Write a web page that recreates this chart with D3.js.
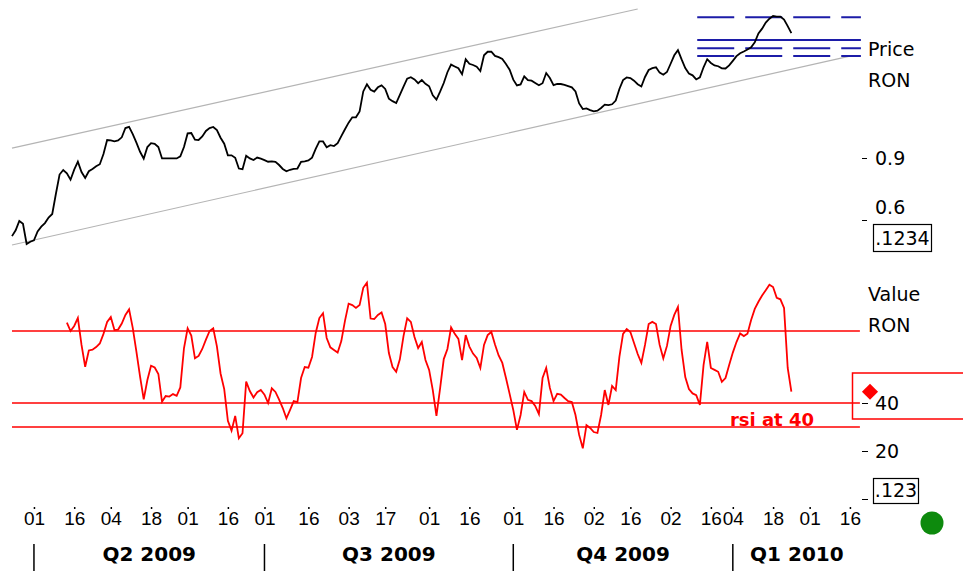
<!DOCTYPE html>
<html><head><meta charset="utf-8">
<script src="https://cdn.jsdelivr.net/npm/d3@7"></script>
<style>html,body{margin:0;padding:0;background:#fff;}svg{display:block;}</style>
</head><body><svg id="c" width="963" height="575"></svg>
<script>
// ---------- DATA ----------
const priceStart = 0;
const priceValues = [
0.522,0.550,0.595,0.582,0.484,0.495,0.502,0.545,0.568,0.585,
0.612,0.629,0.727,0.820,0.842,0.826,0.795,0.844,0.882,0.832,
0.803,0.836,0.847,0.860,0.870,0.919,0.987,0.985,0.981,0.985,
1.000,1.045,1.051,1.016,0.974,0.930,0.897,0.953,0.972,0.969,
0.953,0.898,0.898,0.898,0.898,0.898,0.908,0.953,1.019,1.021,
0.989,0.987,1.004,1.031,1.045,1.050,1.035,0.998,0.969,0.913,
0.913,0.901,0.849,0.846,0.911,0.898,0.890,0.902,0.897,0.890,
0.882,0.884,0.881,0.866,0.847,0.836,0.843,0.847,0.849,0.881,
0.884,0.888,0.902,0.944,0.980,0.980,0.952,0.962,0.958,0.972,
1.006,1.039,1.071,1.097,1.097,1.125,1.222,1.257,1.230,1.221,
1.242,1.251,1.234,1.187,1.175,1.166,1.205,1.245,1.284,1.291,
1.280,1.262,1.277,1.259,1.247,1.203,1.183,1.221,1.263,1.315,
1.352,1.343,1.334,1.305,1.378,1.356,1.350,1.342,1.321,1.397,
1.414,1.414,1.394,1.388,1.379,1.355,1.327,1.279,1.251,1.256,
1.295,1.277,1.274,1.263,1.252,1.262,1.311,1.287,1.253,1.259,
1.258,1.254,1.248,1.242,1.222,1.164,1.137,1.140,1.132,1.126,
1.129,1.142,1.158,1.156,1.160,1.178,1.234,1.277,1.290,1.287,
1.274,1.257,1.246,1.292,1.326,1.335,1.339,1.313,1.303,1.316,
1.356,1.397,1.422,1.377,1.335,1.309,1.300,1.280,1.290,1.339,
1.378,1.360,1.348,1.344,1.334,1.333,1.348,1.370,1.393,1.407,
1.415,1.425,1.436,1.460,1.503,1.526,1.555,1.574,1.587,1.584,
1.584,1.570,1.538,1.504];

const rsiStart = 15;
const rsiValues = [
73.5,70.0,72.1,75.4,64.2,55.1,61.9,62.2,63.3,64.8,
68.8,73.8,75.8,70.4,70.6,73.1,76.7,79.0,71.3,61.4,
51.0,41.5,49.6,55.5,54.8,52.1,40.5,42.9,42.7,43.7,
43.0,46.5,62.8,71.1,68.1,58.6,59.6,62.5,66.4,70.0,
71.1,63.6,52.3,45.8,32.6,28.5,34.6,25.3,27.4,48.9,
45.0,42.3,44.5,45.4,43.5,40.0,46.1,44.6,41.4,37.9,
33.6,37.1,40.8,40.4,50.4,55.0,54.7,59.2,69.2,75.4,
77.4,67.1,63.2,62.1,61.0,65.8,74.2,81.4,80.8,79.6,
80.8,88.0,90.1,75.2,75.0,76.7,77.7,72.9,60.8,55.0,
53.0,58.2,67.9,75.3,73.8,67.5,62.9,65.4,57.9,53.8,
45.4,34.6,46.1,58.3,62.5,71.5,68.8,66.7,57.9,68.3,
63.5,60.6,58.8,54.6,64.2,68.3,69.6,64.4,59.8,56.7,
50.4,43.8,37.1,28.8,35.0,44.6,41.3,40.8,38.8,35.4,
50.4,54.6,46.3,40.8,43.8,43.5,42.1,40.8,40.4,35.0,
26.7,21.1,30.8,29.6,27.9,27.5,35.0,45.4,39.2,47.1,
45.4,59.2,68.8,70.8,69.6,65.0,60.4,56.7,64.2,72.9,
73.8,72.9,64.2,58.6,63.8,72.1,76.7,80.0,62.1,50.8,
45.8,44.0,43.3,39.2,55.8,65.5,54.6,53.8,53.0,48.8,
50.4,55.8,61.0,65.4,69.0,67.9,68.9,74.6,79.2,82.2,
84.8,87.0,89.3,88.3,83.8,83.2,79.6,54.6,44.7];

const sessionDomain = [0, 232];
const tickSessions = [6,17,27,38,48,59,69,81,92,102,114,125,137,148,159,169,180,191,197,208,218,229];
const tickLabels = ["01","16","04","18","01","16","01","16","03","17","01","16","01","16","02","16","02","16","04","18","01","16"];
const quarterStarts = [6, 69, 137, 197];
const quarterLabels = ["Q2 2009","Q3 2009","Q4 2009","Q1 2010"];

const channelUpper = [[0, 0.948],[171, 1.621]];
const channelLower = [[0, 0.479],[229, 1.393]];
const levelValues = [1.581, 1.471, 1.431, 1.394];
const levelDashed = [true, false, true, true];
const levelStart = 187;

const priceTicks = [0.6, 0.9];
const rsiTicks = [0, 20, 40];
const rsiLines = [70, 40, 30];
const priceBoxText = ".1234";
const rsiBoxText = ".123";
const rsiNote = "rsi at 40";

// ---------- SCALES ----------
const svg = d3.select("#c");
const x = d3.scaleLinear().domain(sessionDomain).range([12, 12 + 232*3.659]);
const yP = d3.scaleLinear().domain([0.6, 0.9]).range([220, 158]);
const yR = d3.scaleLinear().domain([30, 70]).range([427, 331]);

const SANS = "'DejaVu Sans', Verdana, sans-serif";

// channel lines
const line2 = d3.line().x(d => x(d[0])).y(d => yP(d[1]));
[channelUpper, channelLower].forEach(c => {
  svg.append("path").attr("d", line2(c)).attr("fill","none")
    .attr("stroke","#b4b4b4").attr("stroke-width",1.2);
});

// blue levels
levelValues.forEach((v,i) => {
  svg.append("line").attr("x1", x(levelStart)+1).attr("x2", x(sessionDomain[1]))
    .attr("y1", yP(v)).attr("y2", yP(v))
    .attr("stroke","#1c1ca8").attr("stroke-width",2)
    .attr("stroke-dasharray", levelDashed[i] ? "37,11" : null);
});

// price line
const priceLine = d3.line().x((d,i) => x(priceStart+i)).y(d => yP(d));
svg.append("path").attr("d", priceLine(priceValues)).attr("fill","none")
  .attr("stroke","#000").attr("stroke-width",1.8).attr("stroke-linejoin","miter");

// RSI horizontal lines
rsiLines.forEach(v => {
  svg.append("line").attr("x1", x(0)).attr("x2", x(sessionDomain[1]) - 1)
    .attr("y1", yR(v)).attr("y2", yR(v)).attr("stroke","#ff0000").attr("stroke-width",1.6);
});

// RSI line
const rsiLine = d3.line().x((d,i) => x(rsiStart+i)).y(d => yR(d));
svg.append("path").attr("d", rsiLine(rsiValues)).attr("fill","none")
  .attr("stroke","#ff0000").attr("stroke-width",1.8);

// rsi note
svg.append("text").attr("x", 814).attr("y", yR(30) - 1).attr("text-anchor","end")
  .attr("font-family", SANS).attr("font-weight","bold").attr("font-size",18)
  .attr("fill","#ff0000").text(rsiNote);

// right side labels
function label(t, xx, yy) {
  svg.append("text").attr("x", xx).attr("y", yy).attr("font-family", SANS)
    .attr("font-size", 19).attr("fill","#000").text(t);
}
label("Price", 868, 56);
label("RON", 868, 87);
label("Value", 868, 301);
label("RON", 868, 332);

// price axis
const gP = svg.append("g").attr("transform","translate(862,0)")
  .call(d3.axisRight(yP).tickValues(priceTicks).tickSize(5).tickPadding(8).tickFormat(d3.format(".1f")));
gP.select(".domain").remove();
gP.selectAll("text").attr("font-family", SANS).attr("font-size",19).attr("fill","#000")
  .attr("dy", d => d === 0.6 ? "-0.32em" : "0.36em");
gP.selectAll("line").attr("stroke","#000");

// rsi axis
const gR = svg.append("g").attr("transform","translate(862,0)")
  .call(d3.axisRight(yR).tickValues(rsiTicks).tickSize(6).tickPadding(7).tickFormat(d => d === 0 ? "" : d));
gR.select(".domain").remove();
gR.selectAll("text").attr("font-family", SANS).attr("font-size",19).attr("fill","#000").attr("dy","0.36em");
gR.selectAll("line").attr("stroke","#000");

// value boxes
function box(t, x0, y0, w, h) {
  svg.append("rect").attr("x", x0+0.5).attr("y", y0+0.5).attr("width", w).attr("height", h)
    .attr("fill","#fff").attr("stroke","#000").attr("stroke-width",1.2);
  svg.append("text").attr("x", x0 + w/2 + 0.5).attr("y", y0 + h - 6).attr("text-anchor","middle")
    .attr("font-family", SANS).attr("font-size",19).attr("fill","#000").text(t);
}
box(priceBoxText, 873, 224, 58, 27);
box(rsiBoxText, 873, 478, 45, 25);

// red highlight box + diamond at last RSI value
svg.append("rect").attr("x", 852.5).attr("y", 373).attr("width", 130).attr("height", 46)
  .attr("fill","none").attr("stroke","#ff0000").attr("stroke-width",1.5);
const lastRsi = rsiValues[rsiValues.length-1];
svg.append("path").attr("d", d3.symbol(d3.symbolSquare, 130)())
  .attr("transform", `translate(870,${yR(lastRsi)}) rotate(45)`).attr("fill","#ff0000");

// x axis
const gX = svg.append("g").attr("transform","translate(0,507)")
  .call(d3.axisBottom(x).tickValues(tickSessions).tickSize(2).tickPadding(3)
    .tickFormat((d,i) => tickLabels[i]));
gX.select(".domain").remove();
gX.selectAll("line").attr("stroke","#000").attr("stroke-width",1.5);
gX.selectAll("text").attr("font-family","'Liberation Sans Narrow','Arial Narrow',sans-serif")
  .attr("font-size",19).attr("fill","#000");

// quarter separators & labels
quarterStarts.forEach((q,i) => {
  svg.append("line").attr("x1", x(q)).attr("x2", x(q)).attr("y1",544).attr("y2",571)
    .attr("stroke","#000").attr("stroke-width",1.5);
  const next = i < quarterStarts.length-1 ? quarterStarts[i+1] : sessionDomain[1];
  svg.append("text").attr("x", (x(q)+x(next))/2).attr("y", 561).attr("text-anchor","middle")
    .attr("font-family", SANS).attr("font-weight","bold").attr("font-size",20)
    .attr("fill","#000").text(quarterLabels[i]);
});

// status dot
svg.append("circle").attr("cx",932).attr("cy",523).attr("r",11.5).attr("fill","#0d8a0d");
</script></body></html>
